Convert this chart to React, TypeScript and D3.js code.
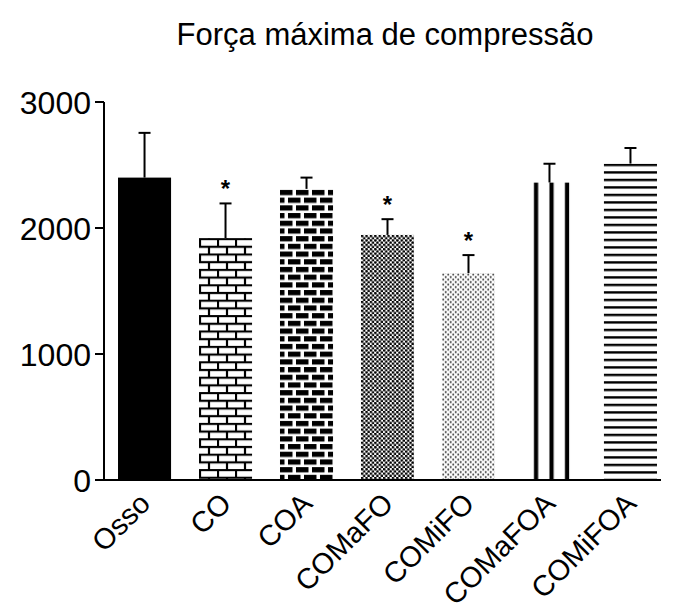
import { useEffect, useRef } from "react"
import * as d3 from "d3"

// groups, means and upper error (SD)
const groups = ["Osso", "CO", "COA", "COMaFO", "COMiFO", "COMaFOA", "COMiFOA"]
const means = [2400, 1920, 2310, 1945, 1640, 2360, 2510]
const errors = [355, 275, 90, 125, 145, 150, 125]
const significant = [false, true, false, true, true, false, false]
const yTicks = [0, 1000, 2000, 3000]
const title = "Força máxima de compressão"

const W = 676
const H = 604
const FONT = "'Liberation Sans', Arial, sans-serif"

export default function App() {
  const svgRef = useRef<SVGSVGElement>(null)

  useEffect(() => {
    if (!svgRef.current) return
    const svg = d3.select(svgRef.current)
    svg.selectAll("*").remove()

    const x0 = 104
    const y = d3.scaleLinear().domain([0, 3000]).range([480, 102])
    const x = d3
      .scaleBand<string>()
      .domain(groups)
      .range([x0, 671])
      .paddingInner(0.345)
      .paddingOuter(0.173)
    const bw = x.bandwidth()

    const defs = svg.append("defs")

    // one pattern per bar, anchored at the bar's left/top edge
    const makePattern = (i: number, w: number, h: number) => {
      const g = groups[i]
      return defs
        .append("pattern")
        .attr("id", "pat-" + i)
        .attr("patternUnits", "userSpaceOnUse")
        .attr("x", x(g)!)
        .attr("y", y(means[i]))
        .attr("width", w)
        .attr("height", h)
    }

    // CO: white bricks, black mortar
    const p1 = makePattern(1, 18, 15.4)
    p1.append("rect").attr("width", 18).attr("height", 15.4).attr("fill", "#fff")
    const m1 = p1.append("g").attr("stroke", "#000").attr("stroke-width", 2.2)
    m1.append("line").attr("x1", 0).attr("x2", 18).attr("y1", 1).attr("y2", 1)
    m1.append("line").attr("x1", 0).attr("x2", 18).attr("y1", 8.7).attr("y2", 8.7)
    m1.append("line").attr("x1", 1).attr("x2", 1).attr("y1", 1).attr("y2", 8.7)
    m1.append("line").attr("x1", 10).attr("x2", 10).attr("y1", 8.7).attr("y2", 15.4)

    // COA: black bricks, white mortar
    const p2 = makePattern(2, 16, 15.4)
    p2.append("rect").attr("width", 16).attr("height", 15.4).attr("fill", "#fff")
    p2.append("rect").attr("x", 0).attr("y", 1).attr("width", 12.5).attr("height", 5.2).attr("fill", "#000")
    p2.append("rect").attr("x", 8).attr("y", 8.7).attr("width", 12.5).attr("height", 5.2).attr("fill", "#000")
    p2.append("rect").attr("x", -8).attr("y", 8.7).attr("width", 12.5).attr("height", 5.2).attr("fill", "#000")

    // COMaFO: dense dots
    const p3 = makePattern(3, 4.4, 4.4)
    p3.append("rect").attr("width", 4.4).attr("height", 4.4).attr("fill", "#fff")
    p3.append("circle").attr("cx", 1.1).attr("cy", 1.1).attr("r", 1.35).attr("fill", "#000")
    p3.append("circle").attr("cx", 3.3).attr("cy", 3.3).attr("r", 1.35).attr("fill", "#000")

    // COMiFO: sparse grey dots
    const p4 = makePattern(4, 5, 5)
    p4.append("rect").attr("width", 5).attr("height", 5).attr("fill", "#fff")
    p4.append("circle").attr("cx", 1.25).attr("cy", 1.25).attr("r", 1).attr("fill", "#333")
    p4.append("circle").attr("cx", 3.75).attr("cy", 3.75).attr("r", 1).attr("fill", "#333")

    // COMaFOA: three wide vertical stripes (tile = whole bar width)
    const p5 = makePattern(5, bw, 10)
    p5.append("rect").attr("width", bw).attr("height", 10).attr("fill", "#fff")
    ;[11, 26.5, 42].forEach((sx) => {
      p5.append("rect").attr("x", sx).attr("width", 4.2).attr("height", 10).attr("fill", "#000")
    })

    // COMiFOA: horizontal lines
    const p6 = makePattern(6, bw, 7.5)
    p6.append("rect").attr("width", bw).attr("height", 7.5).attr("fill", "#fff")
    p6.append("rect").attr("y", 0).attr("width", bw).attr("height", 2.4).attr("fill", "#000")

    const fills = ["#000", "url(#pat-1)", "url(#pat-2)", "url(#pat-3)", "url(#pat-4)", "url(#pat-5)", "url(#pat-6)"]

    // error bars (upper only)
    const eb = svg.append("g").attr("stroke", "#000").attr("stroke-width", 2)
    groups.forEach((g, i) => {
      const cx = x(g)! + bw / 2
      eb.append("line")
        .attr("x1", cx).attr("x2", cx)
        .attr("y1", y(means[i])).attr("y2", y(means[i] + errors[i]))
      eb.append("line")
        .attr("x1", cx - 6).attr("x2", cx + 6)
        .attr("y1", y(means[i] + errors[i])).attr("y2", y(means[i] + errors[i]))
    })

    // bars
    svg
      .append("g")
      .selectAll("rect")
      .data(groups)
      .enter()
      .append("rect")
      .attr("x", (d) => x(d)!)
      .attr("y", (d, i) => y(means[i]))
      .attr("width", bw)
      .attr("height", (d, i) => y(0) - y(means[i]))
      .attr("fill", (d, i) => fills[i])

    // significance stars
    svg
      .append("g")
      .selectAll("text")
      .data(groups.filter((d, i) => significant[i]))
      .enter()
      .append("text")
      .attr("x", (d) => x(d)! + bw / 2)
      .attr("y", (d) => {
        const i = groups.indexOf(d)
        return y(means[i] + errors[i]) - 6
      })
      .attr("text-anchor", "middle")
      .style("font-family", FONT)
      .style("font-size", "24px")
      .style("font-weight", "bold")
      .text("*")

    // axes
    const axisG = svg.append("g").attr("stroke", "#000").attr("stroke-width", 2)
    axisG.append("line").attr("x1", x0).attr("x2", x0).attr("y1", y(3000)).attr("y2", y(0))
    axisG.append("line").attr("x1", x0).attr("x2", 661).attr("y1", y(0)).attr("y2", y(0))
    yTicks.forEach((t) => {
      axisG.append("line").attr("x1", x0 - 9).attr("x2", x0).attr("y1", y(t)).attr("y2", y(t))
    })
    svg
      .append("g")
      .selectAll("text")
      .data(yTicks)
      .enter()
      .append("text")
      .attr("x", x0 - 13)
      .attr("y", (d) => y(d))
      .attr("dy", "0.36em")
      .attr("text-anchor", "end")
      .style("font-family", FONT)
      .style("font-size", "32px")
      .text((d) => String(d))

    // x labels rotated
    svg
      .append("g")
      .selectAll("text")
      .data(groups)
      .enter()
      .append("text")
      .attr("transform", (d) => `translate(${x(d)! + bw / 2 - 7},${y(0) + 11}) rotate(-45)`)
      .attr("text-anchor", "end")
      .attr("dy", "0.7em")
      .style("font-family", FONT)
      .style("font-size", "29px")
      .text((d) => d)

    // title
    svg
      .append("text")
      .attr("x", 385)
      .attr("y", 45)
      .attr("text-anchor", "middle")
      .style("font-family", FONT)
      .style("font-size", "31px")
      .text(title)
  }, [])

  return (
    <svg
      ref={svgRef}
      width={W}
      height={H}
      style={{ position: "absolute", left: 0, top: 0, background: "#fff" }}
    />
  )
}
